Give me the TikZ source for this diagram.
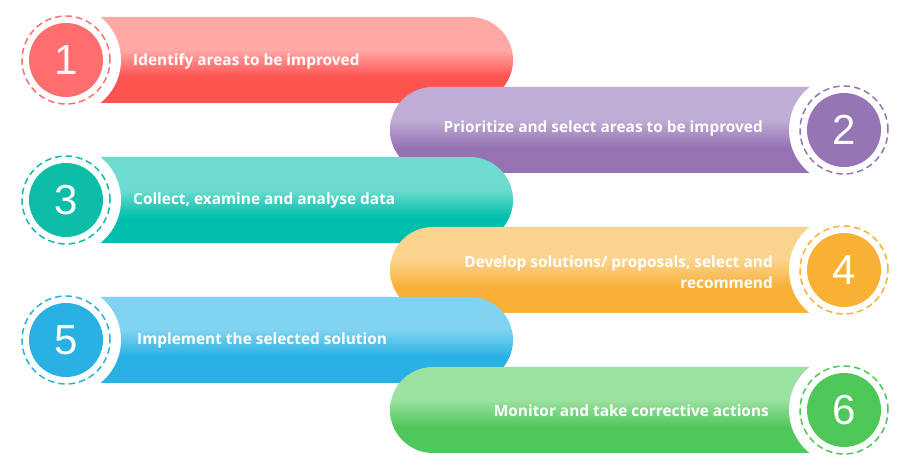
\documentclass[tikz,border=0pt]{standalone}
\usepackage{fontspec}
\setmainfont{Open Sans}
\newfontfamily\numfont{Liberation Sans}

% bar colours: light top, dark bottom, and the number disc
\definecolor{redL}{HTML}{FFA8A6}\definecolor{redD}{HTML}{FF5350}\definecolor{redC}{HTML}{FF6E6E}
\definecolor{purL}{HTML}{C0ADD5}\definecolor{purD}{HTML}{9573B3}\definecolor{purC}{HTML}{9575B4}
\definecolor{teaL}{HTML}{6EDBCF}\definecolor{teaD}{HTML}{00BFAA}\definecolor{teaC}{HTML}{0DBDA8}
\definecolor{oraL}{HTML}{FAD38E}\definecolor{oraD}{HTML}{F8B136}\definecolor{oraC}{HTML}{F8B135}
\definecolor{bluL}{HTML}{80D3F1}\definecolor{bluD}{HTML}{27B1E4}\definecolor{bluC}{HTML}{29B1E4}
\definecolor{greL}{HTML}{9BE1A0}\definecolor{greD}{HTML}{4FC75A}\definecolor{greC}{HTML}{4EC759}

% vertical gradients: the path box spans 25bp (bottom) to 75bp (top)
\newcommand\makebarshade[1]{%
  \pgfdeclareverticalshading{#1shade}{100bp}{color(0bp)=(#1D); color(40bp)=(#1D); color(56bp)=(#1L); color(100bp)=(#1L)}}
\makebarshade{red}\makebarshade{pur}\makebarshade{tea}
\makebarshade{ora}\makebarshade{blu}\makebarshade{gre}

\tikzset{
  steptext/.style={text=white, inner sep=0pt, font=\bfseries\fontsize{15.4}{21.5}\selectfont},
  numdisc/.style={circle, minimum size=74pt, inner sep=0pt, text=white,
    font=\numfont\fontsize{42}{42}\selectfont},
  dashring/.style={dash pattern=on 6.5pt off 4pt, line width=1.5pt},
}

% left-hand step: #1 name, #2 centre y, #3 colour prefix, #4 number
\newcommand\leftstep[4]{%
  \shade[shading=#3shade] (66,#2+43) -- (470,#2+43) arc[start angle=90, end angle=-90, radius=43] -- (66,#2-43) -- cycle;
  \fill[white] (66,#2) circle (55);
  \node[numdisc, fill=#3C] (#1) at (66,#2) {#4};
  \draw[dashring, #3C] (#1.center) circle (44);
}
% right-hand step
\newcommand\rightstep[4]{%
  \shade[shading=#3shade] (844,#2+43) -- (433,#2+43) arc[start angle=90, end angle=270, radius=43] -- (844,#2-43) -- cycle;
  \fill[white] (844,#2) circle (55);
  \node[numdisc, fill=#3C] (#1) at (844,#2) {#4};
  \draw[dashring, #3C] (#1.center) circle (44);
}

\begin{document}
\begin{tikzpicture}[x=1pt, y=1pt]
  \useasboundingbox (0,0) rectangle (910,470);

  \leftstep{n1}{410}{red}{1}
  \node[steptext, anchor=west] (t1) at (133,409) {Identify areas to be improved};

  \rightstep{n2}{340}{pur}{2}
  \node[steptext, anchor=east] (t2) at (763,341) {Prioritize and select areas to be improved};

  \leftstep{n3}{270}{tea}{3}
  \node[steptext, anchor=west] (t3) at (133,269) {Collect, examine and analyse data};

  \rightstep{n4}{200}{ora}{4}
  \node[steptext, anchor=east, align=right] (t4) at (773,198) {Develop solutions/ proposals, select and\\recommend};

  \leftstep{n5}{130}{blu}{5}
  \node[steptext, anchor=west] (t5) at (137,129) {Implement the selected solution};

  \rightstep{n6}{60}{gre}{6}
  \node[steptext, anchor=east] (t6) at (769,59) {Monitor and take corrective actions};
\end{tikzpicture}
\end{document}
